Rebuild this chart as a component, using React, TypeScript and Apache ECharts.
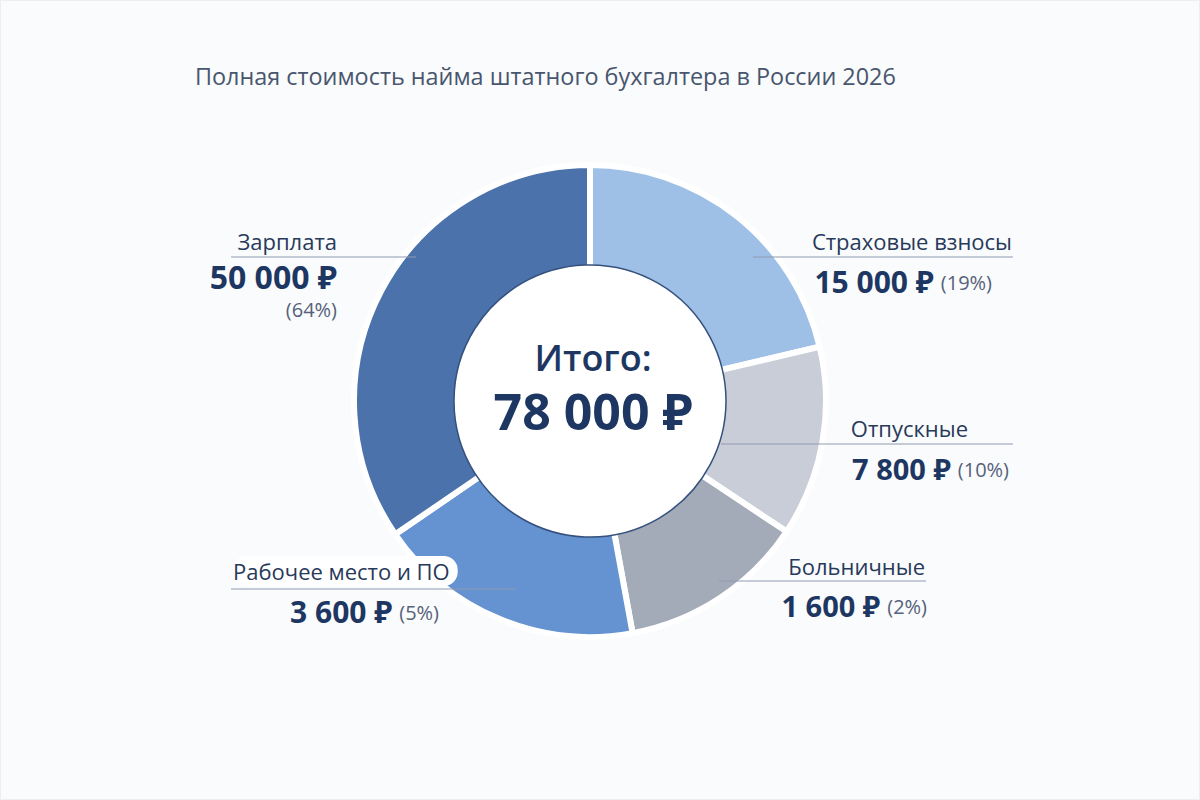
import { useRef, useEffect } from "react";
import * as echarts from "echarts";

// categories in drawing order, clockwise from 12 o'clock
const categories = [
  "Страховые взносы",
  "Отпускные",
  "Больничные",
  "Рабочее место и ПО",
  "Зарплата",
];
// amounts shown in the labels, ₽ per month
const amounts = [15000, 7800, 1600, 3600, 50000];
// arc size of each slice as drawn in the picture, degrees
const drawnArcDeg = [76.7, 46.9, 46, 66, 124.4];
const sliceColors = ["#9fc0e6", "#c8cdd8", "#a3abb8", "#6592d0", "#4b72ab"];

const titleText = "Полная стоимость найма штатного бухгалтера в России 2026";
const totalLabel = "Итого:";

const FONT = "'Open Sans', 'Noto Sans', sans-serif";
const NAVY = "#1e3762";

const fmt = (v: number) => String(v).replace(/\B(?=(\d{3})+(?!\d))/g, " ") + " ₽";

// where each annotation sits: name anchor, align, leader line, value anchor
const labelLayout = [
  { x: 1011, y: 240, align: "right", lx: [752, 1012], ly: 256, valX: 991, valY: 280, size: 30 },
  { x: 967, y: 427, align: "right", lx: [720, 1012], ly: 443, valX: 1008, valY: 467, size: 29 },
  { x: 924, y: 565, align: "right", lx: [718, 925], ly: 580, valX: 926, valY: 604, size: 29 },
  { x: 232, y: 570, align: "left", lx: [230, 515], ly: 588, valX: 438, valY: 610, size: 30, box: true },
  { x: 336, y: 240, align: "right", lx: [230, 415], ly: 256, valX: 336, valY: 275, size: 32, stacked: true },
];

export default function App() {
  const chartRef = useRef<HTMLDivElement>(null);

  useEffect(() => {
    if (!chartRef.current) return;
    const chart = echarts.init(chartRef.current, null, { renderer: "svg" });

    const total = amounts.reduce((a, b) => a + b, 0);
    const pct = amounts.map((v) => Math.round((v / total) * 100));

    const annotations: any[] = [];
    categories.forEach((name, i) => {
      const l = labelLayout[i];
      annotations.push({
        type: "line",
        shape: { x1: l.lx[0], y1: l.ly, x2: l.lx[1], y2: l.ly },
        style: { stroke: "#8f9bb0", lineWidth: 1 },
        z: 10,
      });
      annotations.push({
        type: "text",
        x: l.x,
        y: l.y,
        z: 11,
        style: {
          text: name,
          font: `400 22px ${FONT}`,
          fill: "#28395a",
          align: l.align,
          verticalAlign: "middle",
          backgroundColor: l.box ? "#ffffff" : undefined,
          borderRadius: l.box ? 14 : undefined,
          padding: l.box ? [4, 8, 4, 0] : undefined,
        },
      });
      const b = { font: `700 ${l.size}px ${FONT}`, fill: NAVY };
      const p = { font: `400 20px ${FONT}`, fill: "#56627a", padding: [2, 0, 0, 7] };
      if (l.stacked) {
        annotations.push({
          type: "text",
          x: l.valX,
          y: l.valY - 18,
          z: 11,
          style: {
            text: `{b|${fmt(amounts[i])}}\n{p|(${pct[i]}%)}`,
            rich: {
              b: { ...b, align: "right", lineHeight: 36 },
              p: { ...p, padding: 0, align: "right", lineHeight: 30 },
            },
            align: "right",
            verticalAlign: "top",
          },
        });
      } else {
        annotations.push({
          type: "text",
          x: l.valX,
          y: l.valY,
          z: 11,
          style: {
            text: `{b|${fmt(amounts[i])}}{p|(${pct[i]}%)}`,
            rich: { b, p },
            align: "right",
            verticalAlign: "middle",
          },
        });
      }
    });

    chart.setOption({
      animation: false,
      backgroundColor: "#fafbfc",
      title: {
        text: titleText,
        left: 189,
        top: 58,
        textStyle: { fontFamily: FONT, fontWeight: 400, fontSize: 23.4, color: "#48566e" },
      },
      series: [
        {
          type: "pie",
          center: [589, 400],
          radius: [133, 236],
          startAngle: 90,
          clockwise: true,
          silent: true,
          label: { show: false },
          labelLine: { show: false },
          itemStyle: { borderColor: "#ffffff", borderWidth: 6 },
          data: categories.map((name, i) => ({
            name,
            value: drawnArcDeg[i],
            itemStyle: { color: sliceColors[i] },
          })),
        },
      ],
      graphic: [
        {
          type: "circle",
          shape: { cx: 589, cy: 400, r: 136 },
          style: { fill: "#ffffff", stroke: "#34507d", lineWidth: 1.5 },
          z: 5,
        },
        {
          type: "text",
          x: 592,
          y: 384,
          z: 6,
          style: {
            text: `{a|${totalLabel}}\n{b|${fmt(total)}}`,
            rich: {
              a: { font: `600 36px ${FONT}`, fill: NAVY, align: "center", lineHeight: 52 },
              b: { font: `700 50px ${FONT}`, fill: NAVY, align: "center", lineHeight: 56 },
            },
            align: "center",
            verticalAlign: "middle",
          },
        },
        ...annotations,
      ],
    });

    return () => chart.dispose();
  }, []);

  return (
    <div
      ref={chartRef}
      style={{ position: "absolute", left: 0, top: 0, width: 1200, height: 800, border: "1px solid #eceef2", boxSizing: "border-box" }}
    />
  );
}
